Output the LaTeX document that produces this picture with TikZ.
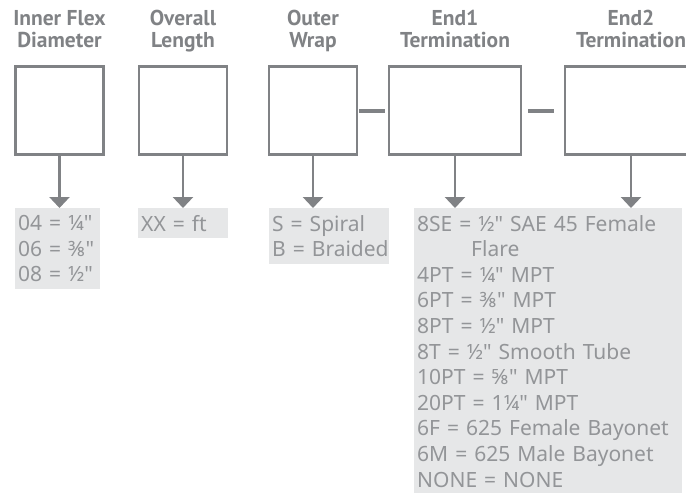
\documentclass[tikz,border=0pt]{standalone}
\usepackage{fontspec}
\setmainfont{PT Sans}
\newfontfamily\optfont{Noto Sans}
\usepackage{tikz}
\usetikzlibrary{arrows.meta, positioning}
\definecolor{linegray}{HTML}{808285}
\definecolor{headgray}{HTML}{808285}
\definecolor{textgray}{HTML}{939598}
\definecolor{optfill}{HTML}{E6E7E8}
\tikzstyle{codebox} = [rectangle, draw=linegray, line width=2.5pt, inner sep=0pt, minimum height=88pt]
\tikzstyle{header} = [align=center, text=headgray, font=\bfseries\fontsize{21.5}{22}\selectfont, inner sep=0pt, anchor=north]
\tikzstyle{options} = [rectangle, fill=optfill, align=left, anchor=north west, text=textgray, inner xsep=3pt, inner ysep=7pt, font=\optfont\fontsize{21}{25.6}\selectfont]
\tikzstyle{arrow} = [line width=2.5pt, -{Triangle[width=20pt,length=11pt]}, color=linegray]
\tikzstyle{link} = [line width=4pt, color=linegray]

\begin{document}
\begin{tikzpicture}[x=1pt, y=-1pt]
    \useasboundingbox (0,0) rectangle (686,493);
    \clip (0,0) rectangle (686,493);

    \node[codebox, minimum width=88pt] (diam) at (59.5,110.5) {};
    \node[codebox, minimum width=88pt] (length) at (183,110.5) {};
    \node[codebox, minimum width=88pt] (wrap) at (313,110.5) {};
    \node[codebox, minimum width=132pt] (endone) at (455,110.5) {};
    \node[codebox, minimum width=132pt] (endtwo) at (631,110.5) {};

    \node[header] (diamhead) at (59.5,10) {Inner Flex\\Diameter};
    \node[header] (lengthhead) at (183,10) {Overall\\Length};
    \node[header] (wraphead) at (313,10) {Outer\\Wrap};
    \node[header] (endonehead) at (455,10) {End1\\Termination};
    \node[header] (endtwohead) at (631,10) {End2\\Termination};

    \node[options, text width=79pt] (diamopt) at (15,208) {04 = ¼"\\06 = ⅜"\\08 = ½"};
    \node[options, text width=84pt] (lengthopt) at (138,208) {XX = ft};
    \node[options, text width=114pt] (wrapopt) at (269,208) {S~=~Spiral\\B~=~Braided};
    \node[options, text width=262pt] (endopt) at (414,208) {8SE = ½" SAE 45 Female\\\hspace*{54pt}Flare\\4PT = ¼" MPT\\6PT = ⅜" MPT\\8PT = ½" MPT\\8T = ½" Smooth Tube\\10PT = ⅝" MPT\\20PT = 1¼" MPT\\6F = 625 Female Bayonet\\6M = 625 Male Bayonet\\NONE = NONE};

    \draw[arrow] (diam.south) -- (diam.south |- diamopt.north);
    \draw[arrow] (length.south) -- (length.south |- lengthopt.north);
    \draw[arrow] (wrap.south) -- (wrap.south |- wrapopt.north);
    \draw[arrow] (endone.south) -- (endone.south |- endopt.north);
    \draw[arrow] (endtwo.south) -- (endtwo.south |- endopt.north);

    \draw[link, shorten <=0.75pt, shorten >=2.75pt] (wrap.east) -- (endone.west);
    \draw[link, shorten <=5.75pt, shorten >=9.75pt] (endone.east) -- (endtwo.west);
\end{tikzpicture}
\end{document}
